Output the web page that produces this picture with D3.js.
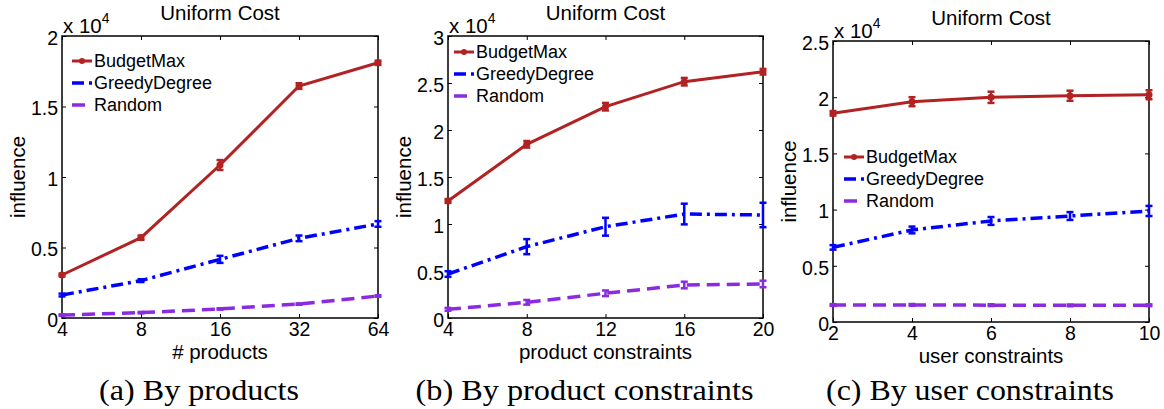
<!DOCTYPE html>
<html>
<head>
<meta charset="utf-8">
<script src="https://cdn.jsdelivr.net/npm/d3@7"></script>
<style>
	body { margin: 0; background: #fff; }
	text { font-family: "Liberation Sans", Arial, sans-serif; fill: #000; }
	.caption { font-family: "Liberation Serif", "Times New Roman", serif; }
</style>
</head>
<body>
<script>
var seriesNames = ["BudgetMax", "GreedyDegree", "Random"];

// (a) by products
var productsX = ["4", "8", "16", "32", "64"];
var productsBudgetMax = [3050, 5700, 10850, 16450, 18100];
var productsBudgetMaxErr = [100, 150, 350, 200, 150];
var productsGreedy = [1630, 2650, 4160, 5650, 6670];
var productsGreedyErr = [100, 100, 250, 200, 200];
var productsRandom = [210, 380, 640, 990, 1560];
var productsRandomErr = [50, 50, 50, 50, 50];
var productsYTicks = [0, 5000, 10000, 15000, 20000];

// (b) by product constraints
var prodConsX = [4, 8, 12, 16, 20];
var prodConsBudgetMax = [12450, 18480, 22480, 25140, 26200];
var prodConsBudgetMaxErr = [200, 350, 400, 400, 300];
var prodConsGreedy = [4680, 7590, 9710, 11060, 10960];
var prodConsGreedyErr = [300, 800, 950, 1100, 1300];
var prodConsRandom = [925, 1670, 2630, 3510, 3620];
var prodConsRandomErr = [150, 250, 300, 350, 350];
var prodConsYTicks = [0, 5000, 10000, 15000, 20000, 25000, 30000];

// (c) by user constraints
var userConsX = [2, 4, 6, 8, 10];
var userConsBudgetMax = [18570, 19600, 19990, 20130, 20220];
var userConsBudgetMaxErr = [200, 400, 500, 450, 400];
var userConsGreedy = [6640, 8190, 8990, 9430, 9880];
var userConsGreedyErr = [200, 300, 350, 350, 450];
var userConsRandom = [1510, 1520, 1500, 1480, 1490];
var userConsRandomErr = [80, 80, 80, 80, 80];
var userConsYTicks = [0, 5000, 10000, 15000, 20000, 25000];

var styles = [
	{color: "#b22222", width: 3, dash: null, dot: true},
	{color: "#0000ff", width: 3.5, dash: "12,5,3,5", dot: false},
	{color: "#8a2be2", width: 3.5, dash: "13,7", dot: false}
];

var svg = d3.select("body").append("svg")
	.attr("width", 1164)
	.attr("height", 409);

var drawPanel = function(p) {
	var g = svg.append("g");
	var x;
	if (p.categorical) {
		x = d3.scalePoint().domain(p.xs).range([p.x0, p.x1]);
	} else {
		x = d3.scaleLinear().domain(d3.extent(p.xs)).range([p.x0, p.x1]);
	}
	var y = d3.scaleLinear().domain([0, d3.max(p.yTicks)]).range([p.y1, p.y0]);
	var fmt = function(d) { return d3.format("~g")(d / 10000); };

	// axes, ticks pointing inward on all four sides
	var bottom = g.append("g").attr("transform", "translate(0," + p.y1 + ")")
		.call(d3.axisBottom(x).tickValues(p.xs).tickSizeInner(-4).tickSizeOuter(0).tickPadding(4.5));
	var top = g.append("g").attr("transform", "translate(0," + p.y0 + ")")
		.call(d3.axisTop(x).tickValues(p.xs).tickSizeInner(-4).tickSizeOuter(0).tickFormat(""));
	var left = g.append("g").attr("transform", "translate(" + p.x0 + ",0)")
		.call(d3.axisLeft(y).tickValues(p.yTicks).tickFormat(fmt).tickSizeInner(-4).tickSizeOuter(0).tickPadding(4));
	var right = g.append("g").attr("transform", "translate(" + p.x1 + ",0)")
		.call(d3.axisRight(y).tickValues(p.yTicks).tickSizeInner(-4).tickSizeOuter(0).tickFormat(""));

	[bottom, top, left, right].forEach(function(a) {
		a.select(".domain").remove();
		a.selectAll(".tick line").attr("stroke", "#000").attr("stroke-width", 1);
		a.selectAll("text").style("font-size", "19.5px").style("font-family", "'Liberation Sans', Arial, sans-serif");
	});
	left.selectAll("text").attr("dy", "0.42em");

	g.append("rect")
		.attr("x", p.x0).attr("y", p.y0)
		.attr("width", p.x1 - p.x0).attr("height", p.y1 - p.y0)
		.attr("fill", "none").attr("stroke", "#000").attr("stroke-width", 1.5);

	// exponent label
	var ex = g.append("text").attr("x", p.x0 + 1).attr("y", p.y0 - 3).style("font-size", "20.5px");
	ex.append("tspan").text("x 10");
	ex.append("tspan").attr("dy", -10).style("font-size", "14px").text("4");

	var cx = (p.x0 + p.x1) / 2;
	g.append("text").attr("x", cx).attr("y", p.y0 - 16)
		.attr("text-anchor", "middle").style("font-size", "20.5px").text("Uniform Cost");
	g.append("text").attr("x", cx).attr("y", p.y1 + 41)
		.attr("text-anchor", "middle").style("font-size", "20.5px").text(p.xLabel);
	g.append("text")
		.attr("transform", "translate(" + (p.x0 - 44) + "," + ((p.y0 + p.y1) / 2) + ") rotate(-90)")
		.attr("text-anchor", "middle").attr("dy", "0.35em").style("font-size", "20.5px").text("influence");
	g.append("text").attr("class", "caption")
		.attr("x", cx - 21).attr("y", 400)
		.attr("text-anchor", "middle").style("font-size", "30px")
		.attr("textLength", p.capW).attr("lengthAdjust", "spacingAndGlyphs")
		.text(p.caption);

	var line = d3.line()
		.x(function(d) { return x(d.x); })
		.y(function(d) { return y(d.v); });

	p.series.forEach(function(s, i) {
		var st = styles[i];
		var pts = p.xs.map(function(xv, j) { return {x: xv, v: s.v[j], e: s.e[j]}; });

		// error bars
		var eb = g.append("g").attr("stroke", st.color).attr("stroke-width", 2.5);
		pts.forEach(function(d) {
			var px = x(d.x);
			eb.append("line").attr("x1", px).attr("x2", px).attr("y1", y(d.v - d.e)).attr("y2", y(d.v + d.e));
			eb.append("line").attr("x1", px - 3.5).attr("x2", px + 3.5).attr("y1", y(d.v - d.e)).attr("y2", y(d.v - d.e));
			eb.append("line").attr("x1", px - 3.5).attr("x2", px + 3.5).attr("y1", y(d.v + d.e)).attr("y2", y(d.v + d.e));
		});

		g.append("path").datum(pts)
			.attr("d", line)
			.attr("fill", "none")
			.attr("stroke", st.color)
			.attr("stroke-width", st.width)
			.attr("stroke-dasharray", st.dash);

		if (st.dot) {
			g.selectAll(null).data(pts).enter().append("circle")
				.attr("cx", function(d) { return x(d.x); })
				.attr("cy", function(d) { return y(d.v); })
				.attr("r", 3.5)
				.attr("fill", st.color);
		}

		// legend entry
		var ly = p.legY + i * 22;
		g.append("line")
			.attr("x1", p.legX).attr("x2", p.legX + 20)
			.attr("y1", ly).attr("y2", ly)
			.attr("stroke", st.color).attr("stroke-width", st.width)
			.attr("stroke-dasharray", st.dash);
		if (st.dot) {
			g.append("circle").attr("cx", p.legX + 10).attr("cy", ly).attr("r", 3).attr("fill", st.color);
		}
		g.append("text").attr("x", p.legX + 22).attr("y", ly).attr("dy", "0.36em")
			.style("font-size", "18px").text(seriesNames[i]);
	});
};

drawPanel({
	x0: 62, x1: 378, y0: 36, y1: 318, categorical: true,
	xs: productsX, yTicks: productsYTicks,
	xLabel: "# products", caption: "(a) By products", capW: 200,
	legX: 72, legY: 61,
	series: [
		{v: productsBudgetMax, e: productsBudgetMaxErr},
		{v: productsGreedy, e: productsGreedyErr},
		{v: productsRandom, e: productsRandomErr}
	]
});

drawPanel({
	x0: 448, x1: 763, y0: 36, y1: 318, categorical: false,
	xs: prodConsX, yTicks: prodConsYTicks,
	xLabel: "product constraints", caption: "(b) By product constraints", capW: 338,
	legX: 454, legY: 52,
	series: [
		{v: prodConsBudgetMax, e: prodConsBudgetMaxErr},
		{v: prodConsGreedy, e: prodConsGreedyErr},
		{v: prodConsRandom, e: prodConsRandomErr}
	]
});

drawPanel({
	x0: 833, x1: 1149, y0: 41, y1: 322, categorical: false,
	xs: userConsX, yTicks: userConsYTicks,
	xLabel: "user constraints", caption: "(c) By user constraints", capW: 288,
	legX: 844, legY: 157,
	series: [
		{v: userConsBudgetMax, e: userConsBudgetMaxErr},
		{v: userConsGreedy, e: userConsGreedyErr},
		{v: userConsRandom, e: userConsRandomErr}
	]
});
</script>
</body>
</html>
